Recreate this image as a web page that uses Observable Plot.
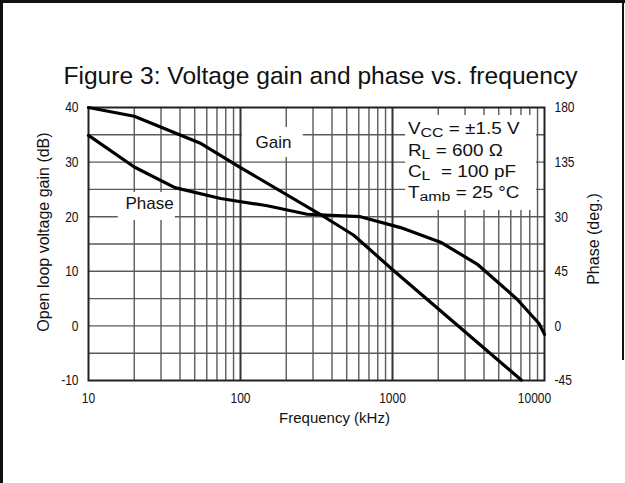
<!DOCTYPE html>
<html>
<head>
<meta charset="utf-8">
<script src="https://cdn.jsdelivr.net/npm/d3@7"></script>
<script src="https://cdn.jsdelivr.net/npm/@observablehq/plot@0.6"></script>
<style>
  html, body { margin: 0; padding: 0; background: #fff; }
  #wrap { position: relative; width: 625px; height: 483px; overflow: hidden; background: #fff; }
  .bl { position: absolute; background: #111; }
</style>
</head>
<body>
<div id="wrap">
  <div class="bl" style="left:0;top:0;width:2.5px;height:483px"></div>
  <div class="bl" style="left:0;top:0;width:625px;height:2.5px"></div>
  <div class="bl" style="left:621.5px;top:0;width:2.5px;height:360px"></div>
</div>
<script>
// ---- data ----
const gainFreq = [10, 20, 55, 100, 336, 556, 1020, 7030];          // kHz
const gainDb   = [40, 38.4, 33.4, 29, 20.4, 16.6, 10.1, -9.9];      // dB

const phaseFreq = [10, 20, 37, 74, 150, 275, 615, 1130, 2070, 3600, 6600, 9200, 10000]; // kHz
const phaseDeg  = [157, 131, 114, 105, 99, 92, 90, 81, 69, 51, 22, 2, -7];              // degrees

const xTicks = [10, 100, 1000, 10000];
const yTicks = [-10, 0, 10, 20, 30, 40];
const phaseTicks = [-45, 0, 45, 90, 135, 180];
const phaseTickLabels = ["-45", "0", "45", "30", "135", "180"];

const minorFreqGrid = [20, 30, 40, 50, 60, 70, 80, 90,
                       200, 300, 400, 500, 600, 700, 800, 900,
                       2000, 3000, 4000, 5000, 6000, 7000, 8000, 9000];
const decadeFreqGrid = [100, 1000];
const gainGrid = [-5, 0, 5, 10, 15, 20, 25, 30, 35];

const titleText = "Figure 3: Voltage gain and phase vs. frequency";
const xLabel = "Frequency (kHz)";
const yLabelLeft = "Open loop voltage gain (dB)";
const yLabelRight = "Phase (deg.)";
const seriesLabels = ["Gain", "Phase"];

const legendMain = ["V", "R", "C", "T"];
const legendSub  = ["CC", "L", "L", "amb"];
const legendRest = [" = \u00b11.5 V", " = 600 \u03a9", "  = 100 pF", " = 25 \u00b0C"];

// phase axis maps onto the gain axis: phase = 4.5 * gain
const PH = 4.5;

const gainData = gainFreq.map((f, i) => ({f, v: gainDb[i]}));
const phaseData = phaseFreq.map((f, i) => ({f, v: phaseDeg[i] / PH}));

const REG = "'Liberation Sans', Arial, Helvetica, sans-serif";

const chart = Plot.plot({
  width: 625,
  height: 483,
  marginLeft: 88,
  marginRight: 81,
  marginTop: 107,
  marginBottom: 103,
  style: {fontFamily: REG, fontSize: "15px", background: "transparent", color: "#111"},
  x: {type: "log", domain: [10, 10000]},
  y: {domain: [-10, 40]},
  marks: [
    Plot.ruleX(minorFreqGrid, {stroke: "#5a5a5a", strokeWidth: 1.4}),
    Plot.ruleY(gainGrid, {stroke: "#5a5a5a", strokeWidth: 1.4}),
    Plot.ruleX(decadeFreqGrid, {stroke: "#333", strokeWidth: 2}),
    // white panels behind the annotations
    Plot.rect([0], {x1: () => 103, x2: () => 259, y1: () => 30.84, y2: () => 36.34, fill: "white"}),
    Plot.rect([0], {x1: () => 15.7, x2: () => 37.3, y1: () => 19.3, y2: () => 24.43, fill: "white"}),
    Plot.rect([0], {x1: () => 1219, x2: () => 8850, y1: () => 21.14, y2: () => 38.53, fill: "white"}),
    Plot.frame({stroke: "#222", strokeWidth: 2}),
    Plot.line(gainData, {x: "f", y: "v", stroke: "black", strokeWidth: 3.2, strokeLinejoin: "round"}),
    Plot.line(phaseData, {x: "f", y: "v", stroke: "black", strokeWidth: 3.2, strokeLinejoin: "round"}),
    Plot.axisX({ticks: xTicks, tickFormat: d => String(d), tickSize: 0, tickPadding: 12, label: null, fontSize: 15}),
    Plot.axisY({ticks: yTicks, tickFormat: d => String(d), tickSize: 0, tickPadding: 10, label: null, fontSize: 15}),
    Plot.axisY({anchor: "right", ticks: phaseTicks.map(p => p / PH),
      tickFormat: d => phaseTickLabels[phaseTicks.indexOf(Math.round(d * PH))],
      tickSize: 0, tickPadding: 10, label: null, fontSize: 15}),
    Plot.text([seriesLabels[0]], {x: () => 165, y: () => 33.6, text: d => d, fontSize: 17, fill: "#111", ariaLabel: "series-label"}),
    Plot.text([seriesLabels[1]], {x: () => 25.2, y: () => 22.4, text: d => d, fontSize: 17, fill: "#111", ariaLabel: "series-label"}),
    Plot.text([titleText], {frameAnchor: "top", dx: 4, dy: -31, text: d => d, fontSize: 24.6, textAnchor: "middle", lineAnchor: "middle", fill: "#111"}),
    Plot.text([xLabel], {frameAnchor: "bottom", dx: 18, dy: 38, text: d => d, fontSize: 15, textAnchor: "middle", lineAnchor: "middle", fill: "#111"}),
    Plot.text([yLabelLeft], {frameAnchor: "left", dx: -45, dy: -12, rotate: -90, text: d => d, fontSize: 16, textAnchor: "middle", lineAnchor: "middle", fill: "#111"}),
    Plot.text([yLabelRight], {frameAnchor: "right", dx: 49, dy: -5, rotate: -90, text: d => d, fontSize: 16, textAnchor: "middle", lineAnchor: "middle", fill: "#111"})
  ]
});

chart.style.position = "absolute";
chart.style.left = "0px";
chart.style.top = "0px";
document.getElementById("wrap").appendChild(chart);

const svg = d3.select(chart);

// the reference uses a condensed face for tick and series labels: squeeze horizontally
function squeeze(sel, k) {
  sel.each(function() {
    const t = d3.select(this);
    const tr = t.attr("transform");
    if (tr) {
      t.attr("transform", tr + ` scale(${k},1)`);
    } else {
      const x = +t.attr("x") || 0, y = +t.attr("y") || 0;
      t.attr("x", null).attr("y", null).attr("transform", `translate(${x},${y}) scale(${k},1)`);
    }
  });
}
squeeze(svg.selectAll('g[aria-label="x-axis tick label"] text'), 0.8);
squeeze(svg.selectAll('g[aria-label="y-axis tick label"] text'), 0.8);
squeeze(svg.selectAll('g[aria-label="series-label"] text'), 0.82);

// the last frequency label sits a little left of its grid line in the reference
const xl = svg.selectAll('g[aria-label="x-axis tick label"] text').nodes();
if (xl.length) {
  const last = d3.select(xl[xl.length - 1]);
  last.attr("transform", "translate(-10,0) " + last.attr("transform"));
}

// legend block with subscripts
const lg = svg.append("g")
  .attr("font-family", REG)
  .attr("font-size", 16)
  .attr("fill", "#111")
  .attr("text-anchor", "start")
  .attr("transform", "translate(408,0) scale(1.18,1) translate(-408,0)")
  .style("white-space", "pre");
legendMain.forEach((m, i) => {
  const t = lg.append("text").attr("x", 408).attr("y", 134.5 + i * 21.3).attr("xml:space", "preserve");
  t.append("tspan").text(m);
  t.append("tspan").attr("font-size", 13.5).attr("dy", 3).text(legendSub[i]);
  t.append("tspan").attr("dy", -3).text(legendRest[i]);
});
</script>
</body>
</html>
